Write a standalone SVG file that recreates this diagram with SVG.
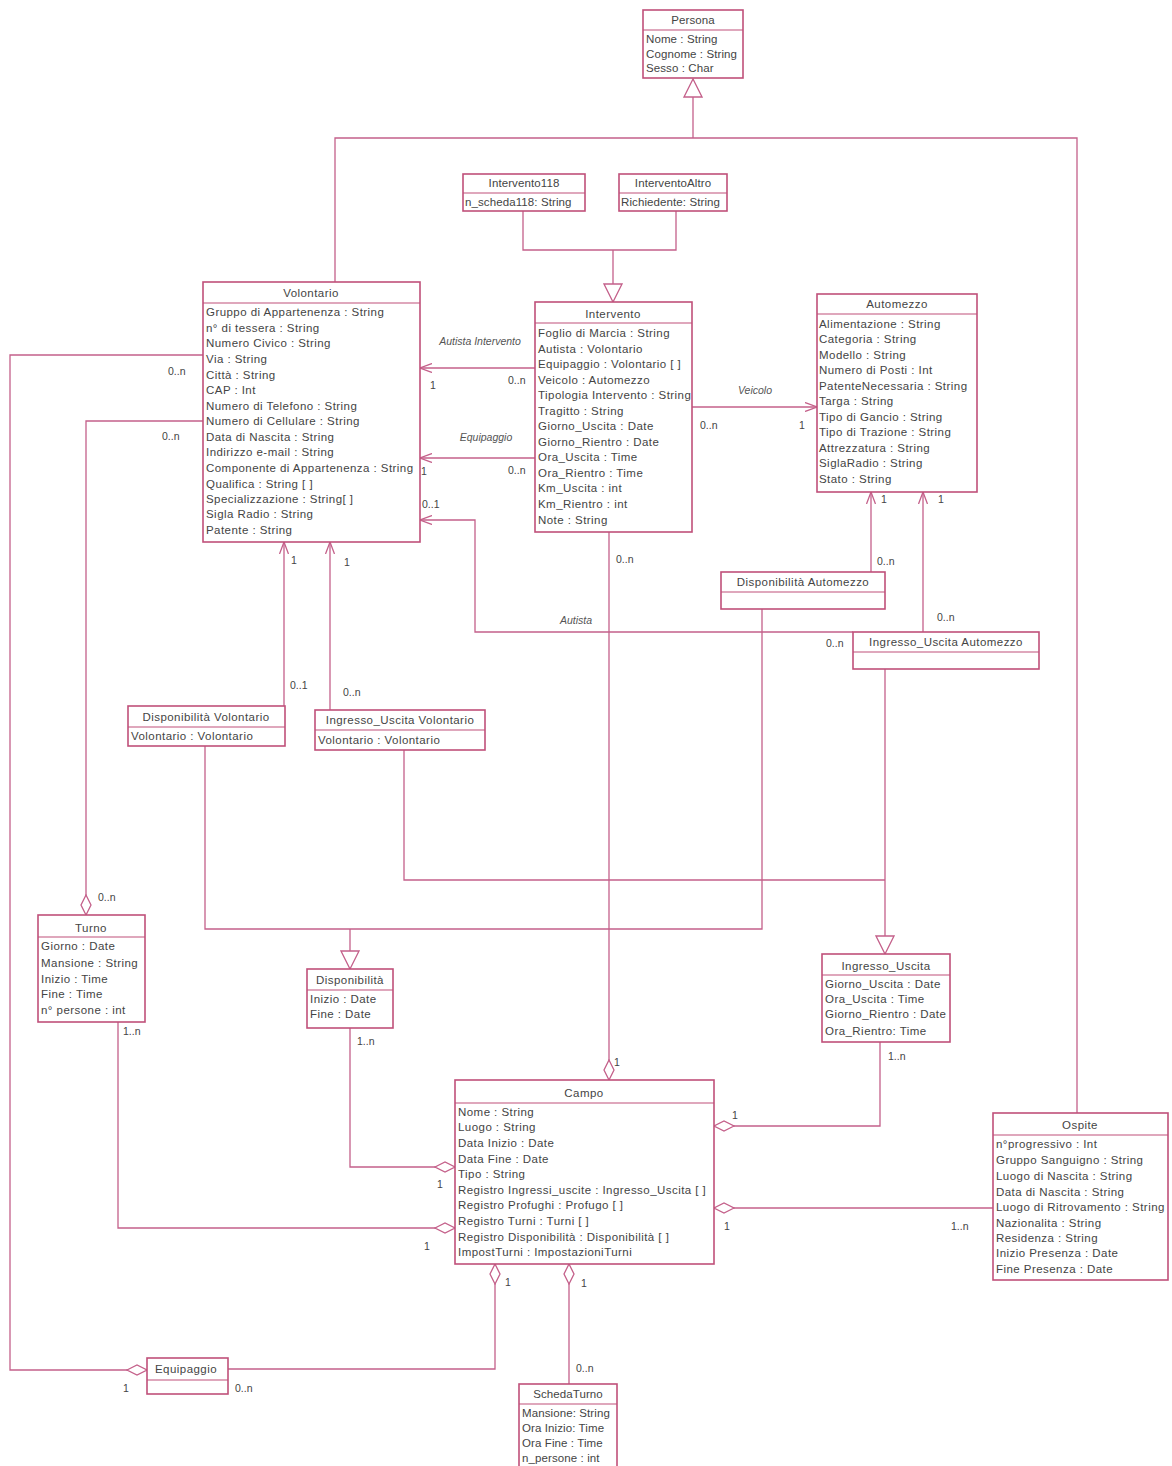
<svg xmlns="http://www.w3.org/2000/svg" width="1172" height="1466" viewBox="0 0 1172 1466">
<style>
.box{fill:#fff;stroke:#c0507a;stroke-width:1.6}
.sep{stroke:#c0507a;stroke-width:1.2}
.ln{fill:none;stroke:#c4608a;stroke-width:1.3}
text{font-family:"Liberation Sans",Arial,sans-serif;font-size:11.5px;fill:#444;letter-spacing:0.45px}
.t{text-anchor:middle}
.n text{letter-spacing:0.1px}
.m{font-size:10.5px;letter-spacing:0}
.i{font-style:italic;font-size:10.5px;text-anchor:middle;fill:#555;letter-spacing:0}
</style>
<defs>
<marker id="arr" viewBox="0 0 12 10" refX="12" refY="5" markerWidth="12" markerHeight="10" orient="auto" markerUnits="userSpaceOnUse"><path d="M0,0.5 L12,5 L0,9.5" fill="none" stroke="#c4608a" stroke-width="1.3"/></marker>
<marker id="tri" viewBox="0 0 20 20" refX="19" refY="10" markerWidth="20" markerHeight="20" orient="auto" markerUnits="userSpaceOnUse"><path d="M1,1 L19,10 L1,19 Z" fill="#fff" stroke="#c4608a" stroke-width="1.3"/></marker>
<marker id="dia" viewBox="0 0 22 12" refX="21" refY="6" markerWidth="22" markerHeight="12" orient="auto" markerUnits="userSpaceOnUse"><path d="M1,6 L11,1 L21,6 L11,11 Z" fill="#fff" stroke="#c4608a" stroke-width="1.3"/></marker>
</defs>

<g id="connectors">
<!-- Persona generalization -->
<polyline class="ln" points="335,282 335,138 1077,138 1077,1113"/>
<line class="ln" x1="693" y1="138" x2="693" y2="79" marker-end="url(#tri)"/>
<!-- Intervento generalization -->
<polyline class="ln" points="523,211 523,250 676,250 676,211"/>
<line class="ln" x1="613" y1="250" x2="613" y2="302" marker-end="url(#tri)"/>
<!-- Autista Intervento -->
<line class="ln" x1="535" y1="368" x2="420" y2="368" marker-end="url(#arr)"/>
<text class="i" x="480" y="345">Autista Intervento</text>
<text class="m" x="430" y="389">1</text>
<text class="m" x="508" y="384">0..n</text>
<!-- Equipaggio (Intervento) -->
<line class="ln" x1="535" y1="458" x2="420" y2="458" marker-end="url(#arr)"/>
<text class="i" x="486" y="441">Equipaggio</text>
<text class="m" x="421" y="475">1</text>
<text class="m" x="508" y="474">0..n</text>
<!-- Veicolo -->
<line class="ln" x1="692" y1="407" x2="817" y2="407" marker-end="url(#arr)"/>
<text class="i" x="755" y="394">Veicolo</text>
<text class="m" x="700" y="429">0..n</text>
<text class="m" x="799" y="429">1</text>
<!-- Autista -->
<polyline class="ln" points="853,632 475,632 475,520 420,520" marker-end="url(#arr)"/>
<text class="m" x="422" y="508">0..1</text>
<text class="i" x="576" y="624">Autista</text>
<text class="m" x="826" y="647">0..n</text>
<!-- Intervento - Campo -->
<line class="ln" x1="609" y1="532" x2="609" y2="1080" marker-end="url(#dia)"/>
<text class="m" x="616" y="563">0..n</text>
<text class="m" x="614" y="1066">1</text>
<!-- Disponibilita Automezzo -->
<line class="ln" x1="871" y1="572" x2="871" y2="492" marker-end="url(#arr)"/>
<text class="m" x="877" y="565">0..n</text>
<text class="m" x="881" y="503">1</text>
<!-- Ingresso_Uscita Automezzo -->
<line class="ln" x1="923" y1="632" x2="923" y2="492" marker-end="url(#arr)"/>
<text class="m" x="937" y="621">0..n</text>
<text class="m" x="938" y="503">1</text>
<!-- Disponibilita Volontario -->
<line class="ln" x1="284" y1="706" x2="284" y2="542" marker-end="url(#arr)"/>
<text class="m" x="290" y="689">0..1</text>
<text class="m" x="291" y="564">1</text>
<!-- Ingresso_Uscita Volontario -->
<line class="ln" x1="330" y1="710" x2="330" y2="542" marker-end="url(#arr)"/>
<text class="m" x="343" y="696">0..n</text>
<text class="m" x="344" y="566">1</text>
<!-- Disponibilita generalization -->
<polyline class="ln" points="205,746 205,929 762,929 762,609"/>
<line class="ln" x1="350" y1="929" x2="350" y2="969" marker-end="url(#tri)"/>
<!-- Ingresso_Uscita generalization -->
<polyline class="ln" points="404,750 404,880 885,880"/>
<line class="ln" x1="885" y1="669" x2="885" y2="954" marker-end="url(#tri)"/>
<!-- Volontario - Turno -->
<polyline class="ln" points="203,421 86,421 86,915" marker-end="url(#dia)"/>
<text class="m" x="162" y="440">0..n</text>
<text class="m" x="98" y="901">0..n</text>
<!-- Volontario - Equipaggio -->
<polyline class="ln" points="203,355 10,355 10,1370 147,1370" marker-end="url(#dia)"/>
<text class="m" x="168" y="375">0..n</text>
<text class="m" x="123" y="1392">1</text>
<!-- Disponibilita - Campo -->
<polyline class="ln" points="350,1028 350,1167 455,1167" marker-end="url(#dia)"/>
<text class="m" x="357" y="1045">1..n</text>
<text class="m" x="437" y="1188">1</text>
<!-- Turno - Campo -->
<polyline class="ln" points="118,1022 118,1228 455,1228" marker-end="url(#dia)"/>
<text class="m" x="123" y="1035">1..n</text>
<text class="m" x="424" y="1250">1</text>
<!-- Ingresso_Uscita - Campo -->
<polyline class="ln" points="880,1042 880,1126 714,1126" marker-end="url(#dia)"/>
<text class="m" x="888" y="1060">1..n</text>
<text class="m" x="732" y="1119">1</text>
<!-- Ospite - Campo -->
<line class="ln" x1="993" y1="1208" x2="714" y2="1208" marker-end="url(#dia)"/>
<text class="m" x="724" y="1230">1</text>
<text class="m" x="951" y="1230">1..n</text>
<!-- Equipaggio - Campo -->
<polyline class="ln" points="228,1369 495,1369 495,1264" marker-end="url(#dia)"/>
<text class="m" x="505" y="1286">1</text>
<text class="m" x="235" y="1392">0..n</text>
<!-- SchedaTurno - Campo -->
<line class="ln" x1="569" y1="1384" x2="569" y2="1264" marker-end="url(#dia)"/>
<text class="m" x="581" y="1287">1</text>
<text class="m" x="576" y="1372">0..n</text>
</g>

<g id="Persona" class="n">
<rect class="box" x="643" y="10" width="100" height="68"/>
<line class="sep" x1="643" y1="30" x2="743" y2="30"/>
<text class="t" x="693" y="24">Persona</text>
<text x="646" y="43">Nome : String</text>
<text x="646" y="58">Cognome : String</text>
<text x="646" y="72">Sesso : Char</text>
</g>

<g id="Intervento118" class="n">
<rect class="box" x="463" y="174" width="122" height="37"/>
<line class="sep" x1="463" y1="193" x2="585" y2="193"/>
<text class="t" x="524" y="187">Intervento118</text>
<text x="465" y="206">n_scheda118: String</text>
</g>

<g id="InterventoAltro" class="n">
<rect class="box" x="619" y="174" width="108" height="37"/>
<line class="sep" x1="619" y1="193" x2="727" y2="193"/>
<text class="t" x="673" y="187">InterventoAltro</text>
<text x="621" y="206">Richiedente: String</text>
</g>

<g id="Intervento">
<rect class="box" x="535" y="302" width="157" height="230"/>
<line class="sep" x1="535" y1="323" x2="692" y2="323"/>
<text class="t" x="613" y="318">Intervento</text>
<text x="538" y="337">Foglio di Marcia : String</text>
<text x="538" y="353">Autista : Volontario</text>
<text x="538" y="368">Equipaggio : Volontario [ ]</text>
<text x="538" y="384">Veicolo : Automezzo</text>
<text x="538" y="399">Tipologia Intervento : String</text>
<text x="538" y="415">Tragitto : String</text>
<text x="538" y="430">Giorno_Uscita : Date</text>
<text x="538" y="446">Giorno_Rientro : Date</text>
<text x="538" y="461">Ora_Uscita : Time</text>
<text x="538" y="477">Ora_Rientro : Time</text>
<text x="538" y="492">Km_Uscita : int</text>
<text x="538" y="508">Km_Rientro : int</text>
<text x="538" y="524">Note : String</text>
</g>

<g id="Volontario">
<rect class="box" x="203" y="282" width="217" height="260"/>
<line class="sep" x1="203" y1="303" x2="420" y2="303"/>
<text class="t" x="311" y="297">Volontario</text>
<text x="206" y="316">Gruppo di Appartenenza : String</text>
<text x="206" y="332">n° di tessera : String</text>
<text x="206" y="347">Numero Civico : String</text>
<text x="206" y="363">Via : String</text>
<text x="206" y="379">Città : String</text>
<text x="206" y="394">CAP : Int</text>
<text x="206" y="410">Numero di Telefono : String</text>
<text x="206" y="425">Numero di Cellulare : String</text>
<text x="206" y="441">Data di Nascita : String</text>
<text x="206" y="456">Indirizzo e-mail : String</text>
<text x="206" y="472">Componente di Appartenenza : String</text>
<text x="206" y="488">Qualifica : String [ ]</text>
<text x="206" y="503">Specializzazione : String[ ]</text>
<text x="206" y="518">Sigla Radio : String</text>
<text x="206" y="534">Patente : String</text>
</g>

<g id="Automezzo">
<rect class="box" x="817" y="294" width="160" height="198"/>
<line class="sep" x1="817" y1="314" x2="977" y2="314"/>
<text class="t" x="897" y="308">Automezzo</text>
<text x="819" y="328">Alimentazione : String</text>
<text x="819" y="343">Categoria : String</text>
<text x="819" y="359">Modello : String</text>
<text x="819" y="374">Numero di Posti : Int</text>
<text x="819" y="390">PatenteNecessaria : String</text>
<text x="819" y="405">Targa : String</text>
<text x="819" y="421">Tipo di Gancio : String</text>
<text x="819" y="436">Tipo di Trazione : String</text>
<text x="819" y="452">Attrezzatura : String</text>
<text x="819" y="467">SiglaRadio : String</text>
<text x="819" y="483">Stato : String</text>
</g>

<g id="DisponibilitaAutomezzo">
<rect class="box" x="721" y="572" width="164" height="37"/>
<line class="sep" x1="721" y1="592" x2="885" y2="592"/>
<text class="t" x="803" y="586">Disponibilità Automezzo</text>
</g>

<g id="IngressoUscitaAutomezzo">
<rect class="box" x="853" y="632" width="186" height="37"/>
<line class="sep" x1="853" y1="652" x2="1039" y2="652"/>
<text class="t" x="946" y="646">Ingresso_Uscita Automezzo</text>
</g>

<g id="DisponibilitaVolontario">
<rect class="box" x="128" y="706" width="157" height="40"/>
<line class="sep" x1="128" y1="727" x2="285" y2="727"/>
<text class="t" x="206" y="721">Disponibilità Volontario</text>
<text x="131" y="740">Volontario : Volontario</text>
</g>

<g id="IngressoUscitaVolontario">
<rect class="box" x="315" y="710" width="170" height="40"/>
<line class="sep" x1="315" y1="730" x2="485" y2="730"/>
<text class="t" x="400" y="724">Ingresso_Uscita Volontario</text>
<text x="318" y="744">Volontario : Volontario</text>
</g>

<g id="Turno">
<rect class="box" x="38" y="915" width="107" height="107"/>
<line class="sep" x1="38" y1="937" x2="145" y2="937"/>
<text class="t" x="91" y="932">Turno</text>
<text x="41" y="950">Giorno : Date</text>
<text x="41" y="967">Mansione : String</text>
<text x="41" y="983">Inizio : Time</text>
<text x="41" y="998">Fine : Time</text>
<text x="41" y="1014">n° persone : int</text>
</g>

<g id="Disponibilita">
<rect class="box" x="307" y="969" width="86" height="59"/>
<line class="sep" x1="307" y1="990" x2="393" y2="990"/>
<text class="t" x="350" y="984">Disponibilità</text>
<text x="310" y="1003">Inizio : Date</text>
<text x="310" y="1018">Fine : Date</text>
</g>

<g id="IngressoUscita">
<rect class="box" x="822" y="954" width="128" height="88"/>
<line class="sep" x1="822" y1="975" x2="950" y2="975"/>
<text class="t" x="886" y="970">Ingresso_Uscita</text>
<text x="825" y="988">Giorno_Uscita : Date</text>
<text x="825" y="1003">Ora_Uscita : Time</text>
<text x="825" y="1018">Giorno_Rientro : Date</text>
<text x="825" y="1035">Ora_Rientro: Time</text>
</g>

<g id="Campo">
<rect class="box" x="455" y="1080" width="259" height="184"/>
<line class="sep" x1="455" y1="1103" x2="714" y2="1103"/>
<text class="t" x="584" y="1097">Campo</text>
<text x="458" y="1116">Nome : String</text>
<text x="458" y="1131">Luogo : String</text>
<text x="458" y="1147">Data Inizio : Date</text>
<text x="458" y="1163">Data Fine : Date</text>
<text x="458" y="1178">Tipo : String</text>
<text x="458" y="1194">Registro Ingressi_uscite : Ingresso_Uscita [ ]</text>
<text x="458" y="1209">Registro Profughi : Profugo [ ]</text>
<text x="458" y="1225">Registro Turni : Turni [ ]</text>
<text x="458" y="1241">Registro Disponibilità : Disponibilità [ ]</text>
<text x="458" y="1256">ImpostTurni : ImpostazioniTurni</text>
</g>

<g id="Ospite">
<rect class="box" x="993" y="1113" width="175" height="167"/>
<line class="sep" x1="993" y1="1135" x2="1168" y2="1135"/>
<text class="t" x="1080" y="1129">Ospite</text>
<text x="996" y="1148">n°progressivo : Int</text>
<text x="996" y="1164">Gruppo Sanguigno : String</text>
<text x="996" y="1180">Luogo di Nascita : String</text>
<text x="996" y="1196">Data di Nascita : String</text>
<text x="996" y="1211">Luogo di Ritrovamento : String</text>
<text x="996" y="1227">Nazionalita : String</text>
<text x="996" y="1242">Residenza : String</text>
<text x="996" y="1257">Inizio Presenza : Date</text>
<text x="996" y="1273">Fine Presenza : Date</text>
</g>

<g id="Equipaggio">
<rect class="box" x="147" y="1358" width="81" height="36"/>
<line class="sep" x1="147" y1="1380" x2="228" y2="1380"/>
<text class="t" x="186" y="1373">Equipaggio</text>
</g>

<g id="SchedaTurno" class="n">
<rect class="box" x="519" y="1384" width="98" height="84"/>
<line class="sep" x1="519" y1="1404" x2="617" y2="1404"/>
<text class="t" x="568" y="1398">SchedaTurno</text>
<text x="522" y="1417">Mansione: String</text>
<text x="522" y="1432">Ora Inizio: Time</text>
<text x="522" y="1447">Ora Fine : Time</text>
<text x="522" y="1462">n_persone : int</text>
</g>
</svg>
